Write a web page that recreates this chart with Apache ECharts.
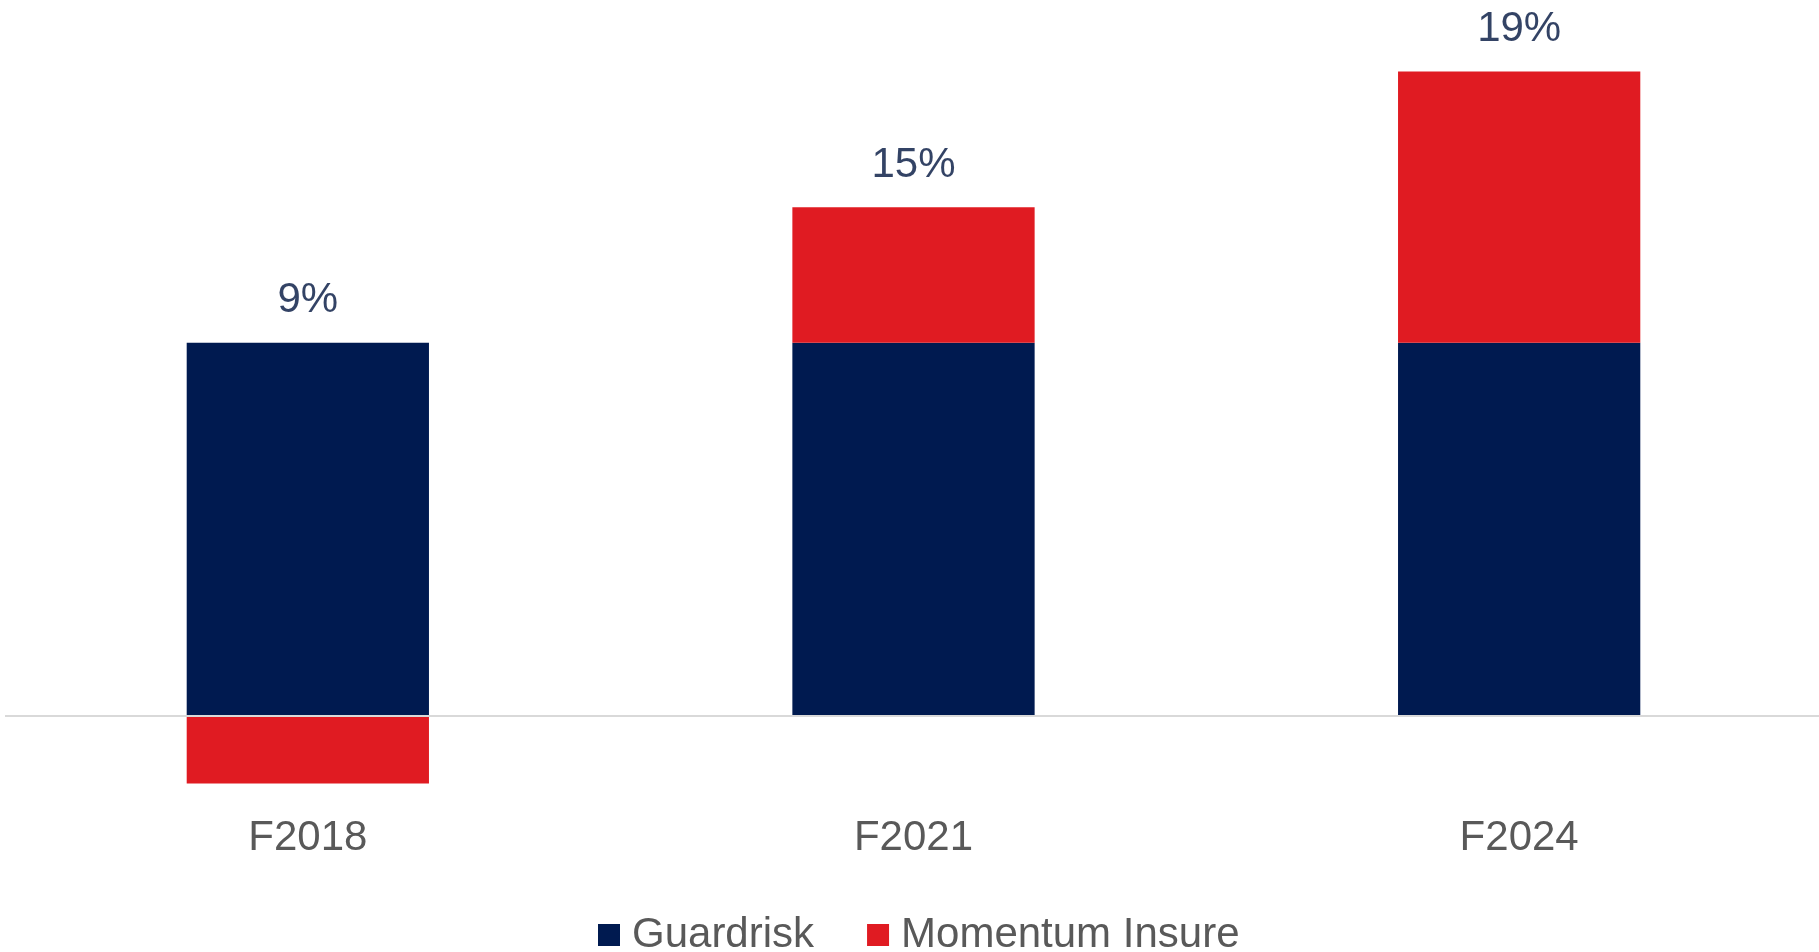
<!DOCTYPE html>
<html>
<head>
<meta charset="utf-8">
<script src="https://cdn.jsdelivr.net/npm/echarts@6/dist/echarts.min.js"></script>
<style>
  html, body { margin: 0; padding: 0; background: #ffffff; }
  #chart { width: 1819px; height: 952px; }
</style>
</head>
<body>
<div id="chart"></div>
<script>
const categories = ['F2018', 'F2021', 'F2024'];
const guardrisk = [11, 11, 11];
const momentumInsure = [-2, 4, 8];
const totals = [9, 15, 19];

const FONT = '"Liberation Sans", Arial, sans-serif';
const NAVY = '#001A50';
const RED = '#E01B22';

const labelTops = categories.map((c, i) => guardrisk[i] + Math.max(0, momentumInsure[i]));

const chart = echarts.init(document.getElementById('chart'), null, { renderer: 'canvas' });
chart.setOption({
  animation: false,
  backgroundColor: '#ffffff',
  grid: { left: 5, top: 37.7, width: 1817, height: 762.8, containLabel: false, outerBoundsMode: 'none' },
  legend: {
    data: ['Guardrisk', 'Momentum Insure'],
    left: 598,
    top: 914,
    padding: 0,
    itemWidth: 22,
    itemHeight: 22,
    itemGap: 53,
    icon: 'rect',
    textStyle: { fontFamily: FONT, fontSize: 42, color: '#595959', lineHeight: 42, padding: [0, 0, 0, 7] }
  },
  xAxis: {
    type: 'category',
    data: categories,
    axisLine: { show: false, onZero: false },
    axisTick: { show: false },
    axisLabel: { fontFamily: FONT, fontSize: 42, lineHeight: 42, color: '#595959', margin: 17 },
    splitLine: { show: false }
  },
  yAxis: {
    type: 'value',
    min: -2.5,
    max: 20,
    show: false,
    splitLine: { show: false }
  },
  series: [
    {
      name: 'Guardrisk',
      type: 'bar',
      stack: 'total',
      barWidth: '40%',
      data: guardrisk,
      itemStyle: { color: NAVY },
      markLine: {
        silent: true,
        symbol: ['none', 'none'],
        label: { show: false },
        lineStyle: { color: '#D9D9D9', width: 2, type: 'solid' },
        data: [{ yAxis: 0 }]
      }
    },
    {
      name: 'Momentum Insure',
      type: 'bar',
      stack: 'total',
      barWidth: '40%',
      data: momentumInsure,
      itemStyle: { color: RED }
    },
    {
      name: 'totals',
      type: 'scatter',
      symbolSize: 0,
      silent: true,
      data: labelTops,
      label: {
        show: true,
        position: 'top',
        distance: 21,
        fontFamily: FONT,
        fontSize: 42,
        lineHeight: 42,
        color: '#00143F',
        formatter: p => totals[p.dataIndex] + '%'
      }
    }
  ]
});
</script>
</body>
</html>
